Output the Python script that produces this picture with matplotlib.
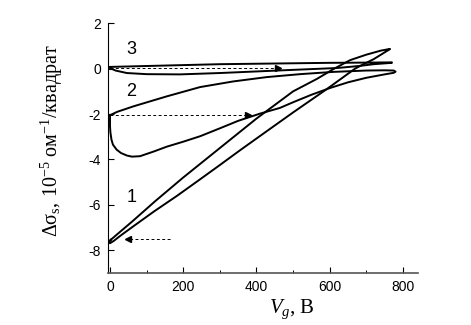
import matplotlib
matplotlib.use("Agg")
import matplotlib.pyplot as plt

plt.rcParams['font.family'] = ['Liberation Sans', 'DejaVu Sans']
plt.rcParams['mathtext.fontset'] = 'custom'
plt.rcParams['mathtext.rm'] = 'Liberation Serif'
plt.rcParams['mathtext.it'] = 'Liberation Serif:italic'
plt.rcParams['axes.unicode_minus'] = False

# curve 1: wide loop from -7.7 up to the tip at ~765 V
c1_x = [2, 20, 60, 123, 200, 300, 400, 500, 565, 612, 656, 700, 740, 760, 765,
        750, 720, 690, 669, 592, 500, 420, 355, 300, 240, 182, 120, 64, 30, 10, 0, -3, 2]
c1_y = [-7.55, -7.3, -6.75, -5.85, -4.8, -3.5, -2.2, -1.0, -0.45, 0.0, 0.38, 0.62, 0.8, 0.86, 0.87,
        0.72, 0.42, 0.18, 0.0, -0.9, -1.93, -2.85, -3.6, -4.25, -4.95, -5.62, -6.3, -6.95, -7.35, -7.6, -7.7, -7.65, -7.55]

# curve 2: loop starting at -2.05
c2_x = [0, 20, 64, 155, 246, 337, 428, 519, 610, 700, 750, 775, 780,
        775, 750, 700, 650, 601, 550, 500, 464, 410, 350, 300, 246, 200, 155, 120, 82, 60, 46, 30, 18, 8, 4, 1, 0, 0]
c2_y = [-2.05, -1.9, -1.66, -1.22, -0.81, -0.56, -0.37, -0.24, -0.14, -0.08, -0.07, -0.08, -0.13,
        -0.18, -0.25, -0.4, -0.6, -0.85, -1.15, -1.48, -1.73, -1.98, -2.3, -2.63, -2.98, -3.22, -3.44, -3.65, -3.86, -3.88, -3.83, -3.72, -3.57, -3.35, -3.13, -2.8, -2.54, -2.05]

# curve 3: flat loop around zero
c3_x = [0, 100, 200, 300, 400, 500, 600, 700, 770,
        770, 720, 680, 619, 500, 400, 300, 191, 100, 46, 15, 0]
c3_y = [0.08, 0.12, 0.16, 0.2, 0.22, 0.24, 0.26, 0.27, 0.28,
        0.26, 0.2, 0.12, 0.03, -0.05, -0.12, -0.19, -0.25, -0.24, -0.19, -0.08, 0.03]

# dashed guide arrows: (x start, x end, y)
guides = [(0, 378, -2.06), (164, 49, -7.5), (0, 460, 0.05)]

curve_labels = ['1', '2', '3']
label_x = [59, 59, 59]
label_y = [-5.7, -1.0, 0.84]

fig = plt.figure(figsize=(4.71, 3.25), dpi=100)
ax = fig.add_axes([0.2293, 0.161, 0.658, 0.767])

for xs, ys in [(c1_x, c1_y), (c2_x, c2_y), (c3_x, c3_y)]:
    ax.plot(xs, ys, color='black', lw=1.4, solid_joinstyle='round')

for x0, x1, y in guides:
    ax.plot([x0, x1], [y, y], color='black', lw=0.7, ls=(0, (3, 2.5)))
    ax.plot([x1], [y], marker='>' if x1 > x0 else '<', color='black', ms=4)

for t, x, y in zip(curve_labels, label_x, label_y):
    ax.text(x, y, t, fontsize=13, ha='center', va='center')

ax.set_xlim(-5.5, 841)
ax.set_ylim(-9, 2)
ax.set_xticks([0, 200, 400, 600, 800])
ax.set_xticks([100, 300, 500, 700], minor=True)
ax.set_yticks([2, 0, -2, -4, -6, -8])
ax.tick_params(direction='in', length=4, width=0.8, labelsize=10, pad=5)
ax.tick_params(which='minor', direction='in', length=2.5, width=0.7)
ax.spines['top'].set_visible(False)
ax.spines['right'].set_visible(False)
ax.spines['bottom'].set_color('#555555')
ax.spines['bottom'].set_linewidth(1.2)

ax.set_xlabel('$V_g$, В', fontsize=15, family='Liberation Serif')
ax.xaxis.set_label_coords(0.594, -0.1)
ax.set_ylabel('Δσ$_\\mathrm{s}$, 10$^{-5}$ ом$^{-1}$/квадрат', fontsize=14.5, family='Liberation Serif')
ax.yaxis.set_label_coords(-0.139, 0.528)

fig.savefig('out.png', dpi=100)
